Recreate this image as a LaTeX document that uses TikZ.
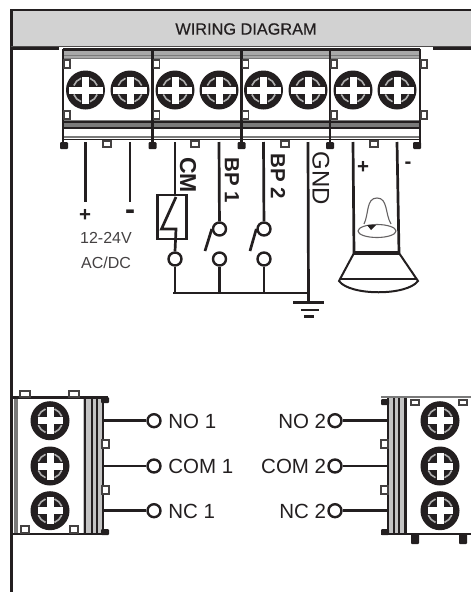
\documentclass[tikz,border=0pt]{standalone}
\usepackage{fontspec}
\setmainfont{Liberation Sans}
\newfontfamily\medfont[FakeBold=0.35]{Liberation Sans}
\usepackage{xcolor}
\definecolor{ink}{HTML}{231F20}
\definecolor{bandgray}{HTML}{D2D2D2}
\definecolor{ribgray}{HTML}{7A7A7A}
\newcommand{\lblsize}{\fontsize{20.5}{24}\selectfont}
\newcommand{\smlsize}{\fontsize{16}{19}\selectfont}
\begin{document}
\begin{tikzpicture}[x=1pt,y=-1pt,ink,line width=2.7pt,
  contact/.style={circle,draw=ink,fill=white,line width=2.4pt,inner sep=0pt,minimum size=13pt},
  lbl/.style={text=ink,inner sep=0pt,font=\lblsize},
  sml/.style={text=ink!85,inner sep=0pt,font=\smlsize},
  vlbl/.style={text=ink,inner sep=0pt,font=\lblsize,rotate=-90,anchor=west},
  tab/.style={draw=ink!85,fill=white,line width=1.6pt},
  foot/.style={fill=ink,rounded corners=1pt},
  rib/.style={ribgray,line width=1.4pt},
  pics/screw/.style={code={
    \fill[ink] (0,0) circle (19.5);
    \foreach \a in {45,135,225,315}
      \draw[ribgray!60,line width=1.6pt] (\a-24:12.5) arc[start angle=\a-24,end angle=\a+24,radius=12.5];
    \fill[white] (-#1,-3.5) rectangle (#1,3.5);
    \fill[white] (-3.5,-13.5) rectangle (3.5,13.5);
  }}]
\useasboundingbox (0,0) rectangle (471,592);
% frame and title band
\fill[bandgray] (11,10) rectangle (471,46);
\draw (471,10) -- (11.5,10) -- (11.5,592);
\draw[ink!80,line width=1pt] (11,46) -- (471,46);
\draw (11,48.5) -- (59,48.5);
\draw (433,48.5) -- (471,48.5);
\node [inner sep=0pt,text=ink,font=\fontsize{16.3}{19}\medfont] (title) at (246,29) {WIRING DIAGRAM};

% top terminal block
\fill[white] (63,49) rectangle (420,142);
\fill[bandgray!80!black] (63,50) rectangle (420,58);
\draw (63,49.5) -- (420,49.5);
\draw[rib] (63,55.5) -- (420,55.5);
\draw[rib] (63,58.5) -- (420,58.5);
\fill[ribgray] (63,120) rectangle (420,128);
\draw (63,122) -- (420,122);
\draw (63,128) -- (420,128);
\draw[rib] (63,137) -- (420,137);
\draw[line width=1.6pt] (63,139.5) -- (420,139.5);
\foreach \x in {63,152.5,241.5,330,420}
  \draw (\x,49) -- (\x,143);
\foreach \x in {63,152.5,241.5,330,420} {
  \draw[tab] (\x+1,60) rectangle (\x+7,68);
  \draw[tab] (\x+1,111) rectangle (\x+7,119);
}
\foreach \x in {64,152.5,241.5,330,417}
  \fill[foot] (\x-4,142) rectangle (\x+4,149);
\foreach \x in {107,195,285,374}
  \draw[tab] (\x-4,141) rectangle (\x+4,147);
\foreach \x/\n in {85.5/1,130/2,175/3,219/4,263.5/5,308/6,353/7,397/8} {
  \pic at (\x,90) {screw=17};
  \coordinate (term\n) at (\x,142);
}

% power input
\coordinate (pwrp) at (85.5,202);
\coordinate (pwrn) at (130,202);
\draw (term1) -- (pwrp);
\draw (term2) -- (pwrn);
\node [text=ink,inner sep=0pt,font=\lblsize\bfseries] (plusin) at (85,215) {+};
\node [text=ink,inner sep=0pt,font=\fontsize{30}{32}\selectfont\bfseries] (minusin) at (130,215) {-};
\node [sml] (volt) at (106,238) {12-24V};
\node [sml] (acdc) at (106,263) {AC/DC};

% relay and push buttons
\node [contact] (cm0) at (175,259) {};
\node [contact] (bp1a) at (219.5,229) {};
\node [contact] (bp1b) at (219.5,259) {};
\node [contact] (bp2a) at (264,229) {};
\node [contact] (bp2b) at (264,259) {};
\node [draw=ink,minimum width=29pt,minimum height=44pt,inner sep=0pt,line width=2.5pt] (relay) at (172.2,217) {};
\draw (term3) -- (relay.north-|term3);
\draw (176,197) -- (161.5,229) -- (176,229) -- (cm0.north);
\draw (term4) -- (bp1a);
\draw (term5) -- (bp2a);
\draw (bp1a.west) -- (205,251);
\draw (bp2a.west) -- (250,251);

% common bus and ground
\coordinate (gnd) at (308.5,302);
\coordinate (busl) at (173,293);
\draw (cm0) -- (cm0|-busl);
\draw (bp1b) -- (bp1b|-busl);
\draw (bp2b) -- (bp2b|-busl);
\draw (busl) -- (gnd|-busl);
\draw (term6) -- (gnd);
\draw (293,302.5) -- (324,302.5);
\draw (301,310) -- (319,310);
\draw (304,316.5) -- (314,316.5);
\node [vlbl,font=\fontsize{23}{26}\selectfont\bfseries] (cmlbl) at (188,156) {CM};
\node [vlbl,font=\lblsize\bfseries] (bp1lbl) at (232,156) {BP 1};
\node [vlbl,font=\lblsize\bfseries] (bp2lbl) at (278,152) {BP 2};
\node [vlbl,font=\fontsize{24}{26}\selectfont] (gndlbl) at (321,150) {GND};

% bell
\coordinate (bella) at (354,253);
\coordinate (bellb) at (399,253);
\draw (term7) -- (bella);
\draw (term8) -- (bellb);
\draw[line width=4.5pt] ([xshift=-1pt]bella) -- ([xshift=1pt]bellb);
\draw[line width=2pt] (bella) -- (339,281) .. controls (350,296) and (407,296) .. (418,281) -- (bellb);
\draw[line width=1.4pt] (340,279) -- (417,279);
\node [text=ink,inner sep=0pt,font=\lblsize\bfseries] (pluslbl) at (363,167) {+};
\node [text=ink,inner sep=0pt,font=\lblsize\bfseries] (minuslbl) at (408,165) {-};
\draw[ink!70,line width=1.1pt] (364,224) .. controls (369,214) and (366,198) .. (377,198) .. controls (388,198) and (385,214) .. (391,224);
\draw[ink!70,line width=1.1pt] (377,231) ellipse (19 and 6.5);
\fill[ink] (367,225) -- (376,225) -- (371,230) -- cycle;

% left relay block
\fill[ribgray!45] (83,397) rectangle (103,534);
\draw[line width=2.4pt] (85,397) -- (85,534);
\draw[line width=1.5pt] (92,397) -- (92,534);
\draw[line width=1.5pt] (97,397) -- (97,534);
\draw (103,397) -- (103,534);
\draw[line width=1.5pt,ribgray] (15,397) -- (15,534);
\draw[line width=1.5pt,ribgray] (17,397) -- (17,534);
\draw (12,397.5) -- (108,397.5);
\draw (12,534) -- (108,534);
\foreach \x in {25,74} {
  \draw[tab] (\x-5,391) rectangle (\x+5,397);
  \draw[tab] (\x-4,526) rectangle (\x+4,533);
}
\fill[foot] (101,397) rectangle (109,403);
\fill[foot] (101,529) rectangle (109,535);
\draw[tab] (102,440) rectangle (109,448);
\draw[tab] (102,486) rectangle (109,494);
\foreach \y/\n in {420.7/a,466/b,510.7/c} {
  \pic at (50,\y) {screw=12.5};
  \coordinate (lterm\n) at (103,\y);
  \node [contact] (lpin\n) at (154,\y) {};
  \draw (lterm\n) -- (lpin\n);
}
\node [lbl,anchor=west] (no1) at (167,421) {NO 1};
\node [lbl,anchor=west] (com1) at (167,466) {COM 1};
\node [lbl,anchor=west] (nc1) at (167,511) {NC 1};

% right relay block
\fill[ribgray!45] (388,397) rectangle (407,534);
\draw (388,397) -- (388,534);
\draw[line width=1.5pt] (394,397) -- (394,534);
\draw[line width=1.5pt] (399,397) -- (399,534);
\draw[line width=3pt] (405,397) -- (405,534);
\draw[ribgray] (381,397) -- (471,397);
\draw (381,534) -- (471,534);
\foreach \x in {415,463} {
  \draw[tab] (\x-4,400) rectangle (\x+4,405);
  \fill[foot] (\x-4,534) rectangle (\x+4,544);
}
\fill[foot] (381,399) rectangle (389,405);
\fill[foot] (381,529) rectangle (389,535);
\draw[tab] (381,440) rectangle (388,448);
\draw[tab] (381,486) rectangle (388,494);
\foreach \y/\n in {420.7/a,466/b,510.7/c} {
  \pic at (440,\y) {screw=12.5};
  \coordinate (rterm\n) at (388,\y);
  \node [contact] (rpin\n) at (335,\y) {};
  \draw (rterm\n) -- (rpin\n);
}
\node [lbl,anchor=east] (no2) at (327.5,421) {NO 2};
\node [lbl,anchor=east] (com2) at (327.5,466) {COM 2};
\node [lbl,anchor=east] (nc2) at (327.5,511) {NC 2};
\end{tikzpicture}
\end{document}
